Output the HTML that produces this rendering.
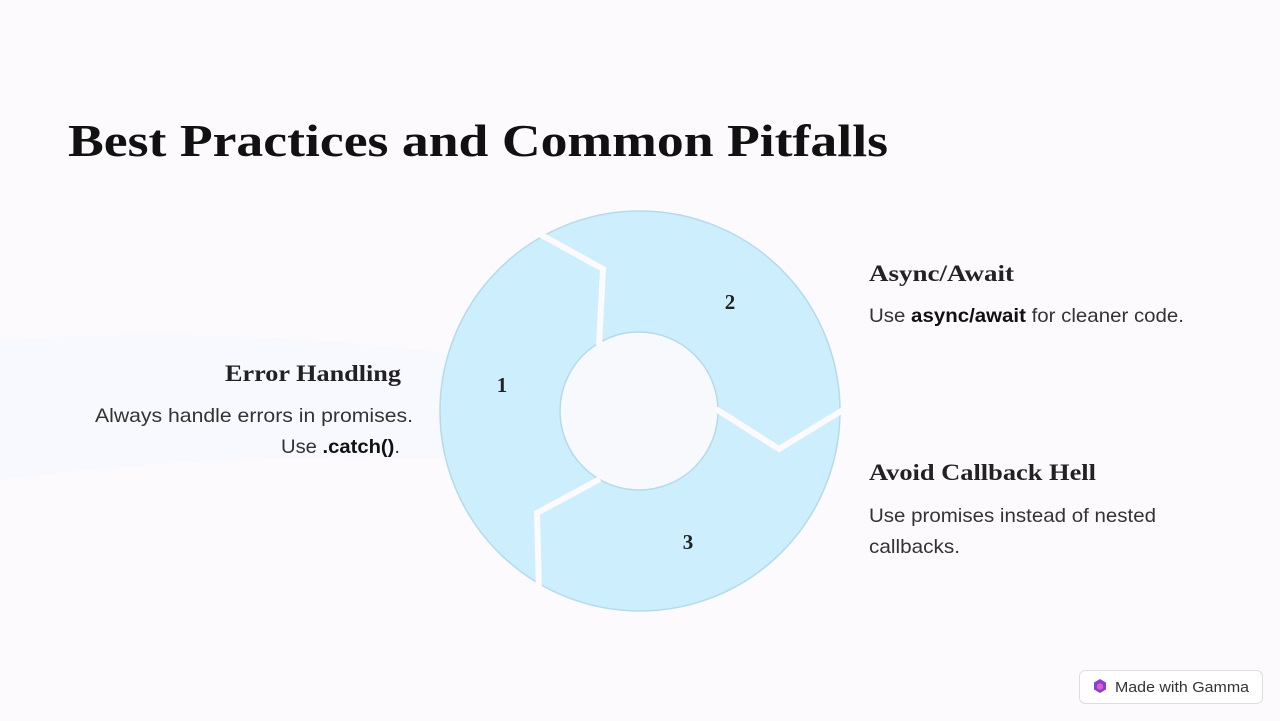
<!DOCTYPE html>
<html><head><meta charset="utf-8"><style>
html,body{margin:0;padding:0;width:1280px;height:721px;overflow:hidden;background:#fdfafd}
</style></head><body>
<svg width="1280" height="721" viewBox="0 0 1280 721" xmlns="http://www.w3.org/2000/svg">
<rect width="1280" height="721" fill="#fdfafd"/>
<path d="M0 340 Q300 320 620 380 L640 470 Q300 440 0 480 Z" fill="#f3f8fd" opacity="0.7"/>
<text x="68" y="156" font-family="Liberation Serif, serif" font-weight="bold" font-size="46" fill="#111" textLength="820" lengthAdjust="spacingAndGlyphs">Best Practices and Common Pitfalls</text>
<circle cx="640" cy="411" r="200" fill="#cdeefc" stroke="#b5dbea" stroke-width="1.5"/>
<circle cx="639" cy="411" r="79" fill="#f8f9fd" stroke="#b5dbea" stroke-width="1.5"/>
<g stroke="#fdfafd" stroke-width="6" fill="none" stroke-linejoin="miter">
<polyline points="536,232 603,269 599,345"/>
<polyline points="716,409 779,449 846,408"/>
<polyline points="600,479 537,513 539,592"/>
</g>
<g font-family="Liberation Serif, serif" font-weight="bold" font-size="21" fill="#222" text-anchor="middle">
<text x="502" y="392">1</text>
<text x="730" y="309">2</text>
<text x="688" y="549">3</text>
</g>
<g font-family="Liberation Serif, serif" font-weight="bold" font-size="23" fill="#222">
<text x="401" y="381" text-anchor="end" textLength="176" lengthAdjust="spacingAndGlyphs">Error Handling</text>
<text x="869" y="281" textLength="145" lengthAdjust="spacingAndGlyphs">Async/Await</text>
<text x="869" y="480" textLength="227" lengthAdjust="spacingAndGlyphs">Avoid Callback Hell</text>
</g>
<g font-family="Liberation Sans, sans-serif" font-size="19.5" fill="#333">
<text x="95" y="422" textLength="318" lengthAdjust="spacingAndGlyphs">Always handle errors in promises.</text>
<text x="281" y="453" textLength="119" lengthAdjust="spacingAndGlyphs">Use <tspan font-weight="bold" fill="#111">.catch()</tspan>.</text>
<text x="869" y="322" textLength="315" lengthAdjust="spacingAndGlyphs">Use <tspan font-weight="bold" fill="#111">async/await</tspan> for cleaner code.</text>
<text x="869" y="522" textLength="287" lengthAdjust="spacingAndGlyphs">Use promises instead of nested</text>
<text x="869" y="553" textLength="91" lengthAdjust="spacingAndGlyphs">callbacks.</text>
</g>
<rect x="1079.5" y="670.5" width="183" height="33" rx="6" fill="#fff" stroke="#ddd"/>
<path d="M1100 679 l6 3.5 v7 l-6 3.5 l-6 -3.5 v-7z" fill="#8a3fd1"/>
<path d="M1100 683 l3 1.8 v3.4 l-3 1.8 l-3 -1.8 v-3.4z" fill="#e05ad0"/>
<text x="1115" y="692" font-family="Liberation Sans, sans-serif" font-size="15" fill="#333" textLength="134" lengthAdjust="spacingAndGlyphs">Made with Gamma</text>
</svg>
</body></html>
